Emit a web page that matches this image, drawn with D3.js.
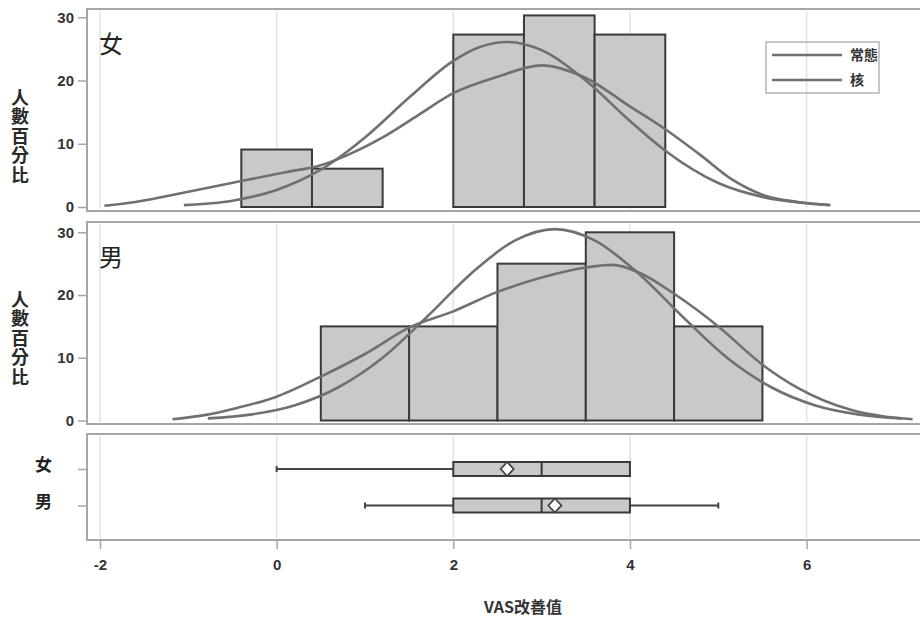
<!DOCTYPE html>
<html>
<head>
<meta charset="utf-8">
<script src="https://cdn.jsdelivr.net/npm/d3@7"></script>
<style>
  html, body { margin: 0; padding: 0; background: #fff; }
  svg { display: block; }
</style>
</head>
<body>
<svg id="chart" width="920" height="621"></svg>
<script>
// ---- data ----
const xTicks = [-2, 0, 2, 4, 6];
const yTicks = [0, 10, 20, 30];

// 女: histogram (percent), bin width 0.8
const femaleBinStart = [-0.4, 0.4, 1.2, 2.0, 2.8, 3.6];
const femaleBinWidth = 0.8;
const femalePct = [9.09, 6.06, 0, 27.27, 30.30, 27.27];

// 男: histogram (percent), bin width 1
const maleBinStart = [0.5, 1.5, 2.5, 3.5, 4.5];
const maleBinWidth = 1;
const malePct = [15, 15, 25, 30, 15];

// 女: fitted normal curve
const femaleNormalX = [-1.05, -0.5, 0, 0.5, 1.0, 1.5, 2.0, 2.3, 2.61, 3.0, 3.5, 4.0, 4.4, 5.0, 5.5, 6.0, 6.27];
const femaleNormalY = [0.3, 1.0, 2.7, 5.9, 11.0, 17.3, 23.1, 25.3, 26.1, 24.8, 20.0, 13.6, 8.9, 3.8, 1.6, 0.6, 0.3];
// 女: kernel density curve
const femaleKernelX = [-1.95, -1.6, -1.0, -0.4, 0.1, 0.5, 0.8, 1.2, 1.6, 2.0, 2.5, 3.0, 3.5, 4.0, 4.4, 4.8, 5.15, 5.55, 5.9, 6.25];
const femaleKernelY = [0.2, 0.8, 2.4, 4.1, 5.5, 6.6, 8.2, 11.0, 14.5, 18.0, 20.6, 22.4, 20.4, 15.9, 12.3, 8.2, 4.4, 1.7, 0.8, 0.3];

// 男: fitted normal curve
const maleNormalX = [-0.78, -0.3, 0.2, 0.7, 1.2, 1.7, 2.2, 2.7, 3.15, 3.6, 4.1, 4.6, 5.1, 5.6, 6.1, 6.6, 7.08];
const maleNormalY = [0.34, 0.94, 2.4, 5.3, 10.0, 16.5, 23.4, 28.7, 30.5, 28.7, 23.4, 16.5, 10.0, 5.3, 2.4, 0.94, 0.34];
// 男: kernel density curve
const maleKernelX = [-1.18, -0.8, -0.45, 0.0, 0.5, 1.0, 1.5, 2.0, 2.5, 3.0, 3.5, 3.8, 4.1, 4.5, 5.0, 5.5, 5.9, 6.5, 6.9, 7.2];
const maleKernelY = [0.2, 0.9, 2.0, 3.8, 7.0, 10.6, 14.8, 17.4, 20.5, 22.8, 24.4, 24.8, 23.6, 20.2, 15.0, 8.9, 5.2, 1.7, 0.6, 0.2];

// box plot summary
const boxGroups = ["女", "男"];
const boxMin = [0, 1];
const boxQ1 = [2, 2];
const boxMedian = [3, 3];
const boxQ3 = [4, 4];
const boxMax = [4, 5];
const boxMean = [2.61, 3.15];

const legendLabels = ["常態", "核"];
const yTitle = "人數百分比";
const xTitle = "VAS改善值";

// ---- layout ----
const svg = d3.select("#chart");
const left = 87, right = 924;
const frameColor = "#a6a6a6";
const gridColor = "#e2e2e2";
const barFill = "#c9c9cc";
const barStroke = "#3a3a3a";
const curveColor = "#707070";
const cjk = "'Noto Sans CJK TC', 'Noto Sans CJK SC', sans-serif";
const latin = "'Liberation Sans', Arial, sans-serif";

const x = d3.scaleLinear().domain([-2, 6]).range([100, 806.6]);

const panels = [
  { top: 9, bottom: 211, y: d3.scaleLinear().domain([0, 30]).range([207, 17.3]), label: "女",
    binStart: femaleBinStart, binWidth: femaleBinWidth, pct: femalePct,
    nX: femaleNormalX, nY: femaleNormalY, kX: femaleKernelX, kY: femaleKernelY, legend: true, titleTop: 88 },
  { top: 222, bottom: 424, y: d3.scaleLinear().domain([0, 30]).range([420.5, 232.3]), label: "男",
    binStart: maleBinStart, binWidth: maleBinWidth, pct: malePct,
    nX: maleNormalX, nY: maleNormalY, kX: maleKernelX, kY: maleKernelY, legend: false, titleTop: 290 }
];

const boxTop = 434, boxBottom = 540;
const yBox = d3.scalePoint().domain(boxGroups).range([469, 505.5]);

// vertical grid lines in every panel
function grid(top, bottom) {
  svg.append("g").selectAll("line").data(xTicks).join("line")
    .attr("x1", d => x(d)).attr("x2", d => x(d))
    .attr("y1", top + 2).attr("y2", bottom - 2)
    .attr("stroke", gridColor).attr("stroke-width", 1.5);
}

panels.forEach(p => {
  grid(p.top, p.bottom);
  const g = svg.append("g");

  // histogram bars
  g.selectAll("rect").data(p.pct).join("rect")
    .attr("x", (d, i) => x(p.binStart[i]))
    .attr("width", (d, i) => x(p.binStart[i] + p.binWidth) - x(p.binStart[i]))
    .attr("y", d => p.y(d))
    .attr("height", d => p.y(0) - p.y(d))
    .attr("fill", barFill)
    .attr("stroke", barStroke)
    .attr("stroke-width", 2);

  // normal + kernel curves
  const line = d3.line().x(d => x(d[0])).y(d => p.y(d[1])).curve(d3.curveMonotoneX);
  [[p.nX, p.nY], [p.kX, p.kY]].forEach(([xs, ys]) => {
    g.append("path")
      .datum(xs.map((v, i) => [v, ys[i]]))
      .attr("d", line)
      .attr("fill", "none")
      .attr("stroke", curveColor)
      .attr("stroke-width", 2.6);
  });

  // frame
  svg.append("rect")
    .attr("x", left).attr("y", p.top)
    .attr("width", right - left).attr("height", p.bottom - p.top)
    .attr("fill", "none").attr("stroke", frameColor).attr("stroke-width", 2);

  // y axis
  const ax = svg.append("g").attr("transform", `translate(${left},0)`)
    .call(d3.axisLeft(p.y).tickValues(yTicks).tickSize(9).tickPadding(4));
  ax.select(".domain").remove();
  ax.selectAll(".tick line").attr("stroke", frameColor).attr("stroke-width", 1.5);
  ax.selectAll(".tick text")
    .attr("fill", "#333").style("font-family", latin)
    .style("font-size", "15px").style("font-weight", "bold");

  // panel label
  svg.append("text")
    .attr("x", 99).attr("y", (p.top + 44))
    .attr("fill", "#222")
    .style("font-family", cjk).style("font-size", "24px")
    .text(p.label);

  // vertical y title (upright stacked characters)
  svg.append("text")
    .attr("x", 20).attr("y", p.titleTop)
    .attr("fill", "#2a2a2a")
    .style("font-family", cjk).style("font-size", "18px").style("font-weight", "bold")
    .style("letter-spacing", "1.5px")
    .style("writing-mode", "vertical-rl")
    .style("text-orientation", "upright")
    .text(yTitle);

  if (p.legend) {
    const lg = svg.append("g");
    lg.append("rect").attr("x", 766).attr("y", 42).attr("width", 113).attr("height", 51)
      .attr("fill", "none").attr("stroke", "#b4b4b4").attr("stroke-width", 1.5);
    legendLabels.forEach((t, i) => {
      const yy = 55 + i * 25;
      lg.append("line").attr("x1", 772).attr("x2", 842).attr("y1", yy).attr("y2", yy)
        .attr("stroke", curveColor).attr("stroke-width", 2.6);
      lg.append("text").attr("x", 850).attr("y", yy + 5)
        .attr("fill", "#333")
        .style("font-family", cjk).style("font-size", "14px").style("font-weight", "bold")
        .text(t);
    });
  }
});

// ---- box plot panel ----
grid(boxTop, boxBottom);
const bg = svg.append("g");
const boxH = 14, capH = 6;
boxGroups.forEach((gName, i) => {
  const cy = yBox(gName);
  // whiskers
  bg.append("line").attr("x1", x(boxMin[i])).attr("x2", x(boxQ1[i]))
    .attr("y1", cy).attr("y2", cy).attr("stroke", "#444").attr("stroke-width", 1.8);
  bg.append("line").attr("x1", x(boxQ3[i])).attr("x2", x(boxMax[i]))
    .attr("y1", cy).attr("y2", cy).attr("stroke", "#444").attr("stroke-width", 1.8);
  [boxMin[i], boxMax[i]].forEach(v => {
    if (v !== boxQ1[i] && v !== boxQ3[i]) {
      bg.append("line").attr("x1", x(v)).attr("x2", x(v))
        .attr("y1", cy - capH / 2).attr("y2", cy + capH / 2)
        .attr("stroke", "#444").attr("stroke-width", 2);
    }
  });
  // box
  bg.append("rect").attr("x", x(boxQ1[i])).attr("width", x(boxQ3[i]) - x(boxQ1[i]))
    .attr("y", cy - boxH / 2).attr("height", boxH)
    .attr("fill", barFill).attr("stroke", barStroke).attr("stroke-width", 2);
  // median
  bg.append("line").attr("x1", x(boxMedian[i])).attr("x2", x(boxMedian[i]))
    .attr("y1", cy - boxH / 2).attr("y2", cy + boxH / 2)
    .attr("stroke", barStroke).attr("stroke-width", 2);
  // mean diamond
  const mx = x(boxMean[i]);
  bg.append("path")
    .attr("d", `M${mx},${cy - 7}L${mx + 6.5},${cy}L${mx},${cy + 7}L${mx - 6.5},${cy}Z`)
    .attr("fill", "#fff").attr("stroke", "#444").attr("stroke-width", 1.8);
});

svg.append("rect")
  .attr("x", left).attr("y", boxTop)
  .attr("width", right - left).attr("height", boxBottom - boxTop)
  .attr("fill", "none").attr("stroke", frameColor).attr("stroke-width", 2);

const ayb = svg.append("g").attr("transform", `translate(${left},0)`)
  .call(d3.axisLeft(yBox).tickSize(9).tickPadding(26));
ayb.select(".domain").remove();
ayb.selectAll(".tick line").attr("stroke", frameColor).attr("stroke-width", 1.5);
ayb.selectAll(".tick text")
  .attr("fill", "#222").attr("dy", "0.1em")
  .style("font-family", cjk).style("font-size", "17px").style("font-weight", "bold");

// x axis
const axx = svg.append("g").attr("transform", `translate(0,${boxBottom})`)
  .call(d3.axisBottom(x).tickValues(xTicks).tickSize(9).tickPadding(10).tickFormat(d => String(d)));
axx.select(".domain").remove();
axx.selectAll(".tick line").attr("stroke", frameColor).attr("stroke-width", 1.5);
axx.selectAll(".tick text")
  .attr("fill", "#333").style("font-family", latin)
  .style("font-size", "15px").style("font-weight", "bold");

svg.append("text")
  .attr("x", 523).attr("y", 613)
  .attr("text-anchor", "middle")
  .attr("fill", "#333")
  .style("font-family", cjk).style("font-size", "16px").style("font-weight", "bold")
  .text(xTitle);
</script>
</body>
</html>
